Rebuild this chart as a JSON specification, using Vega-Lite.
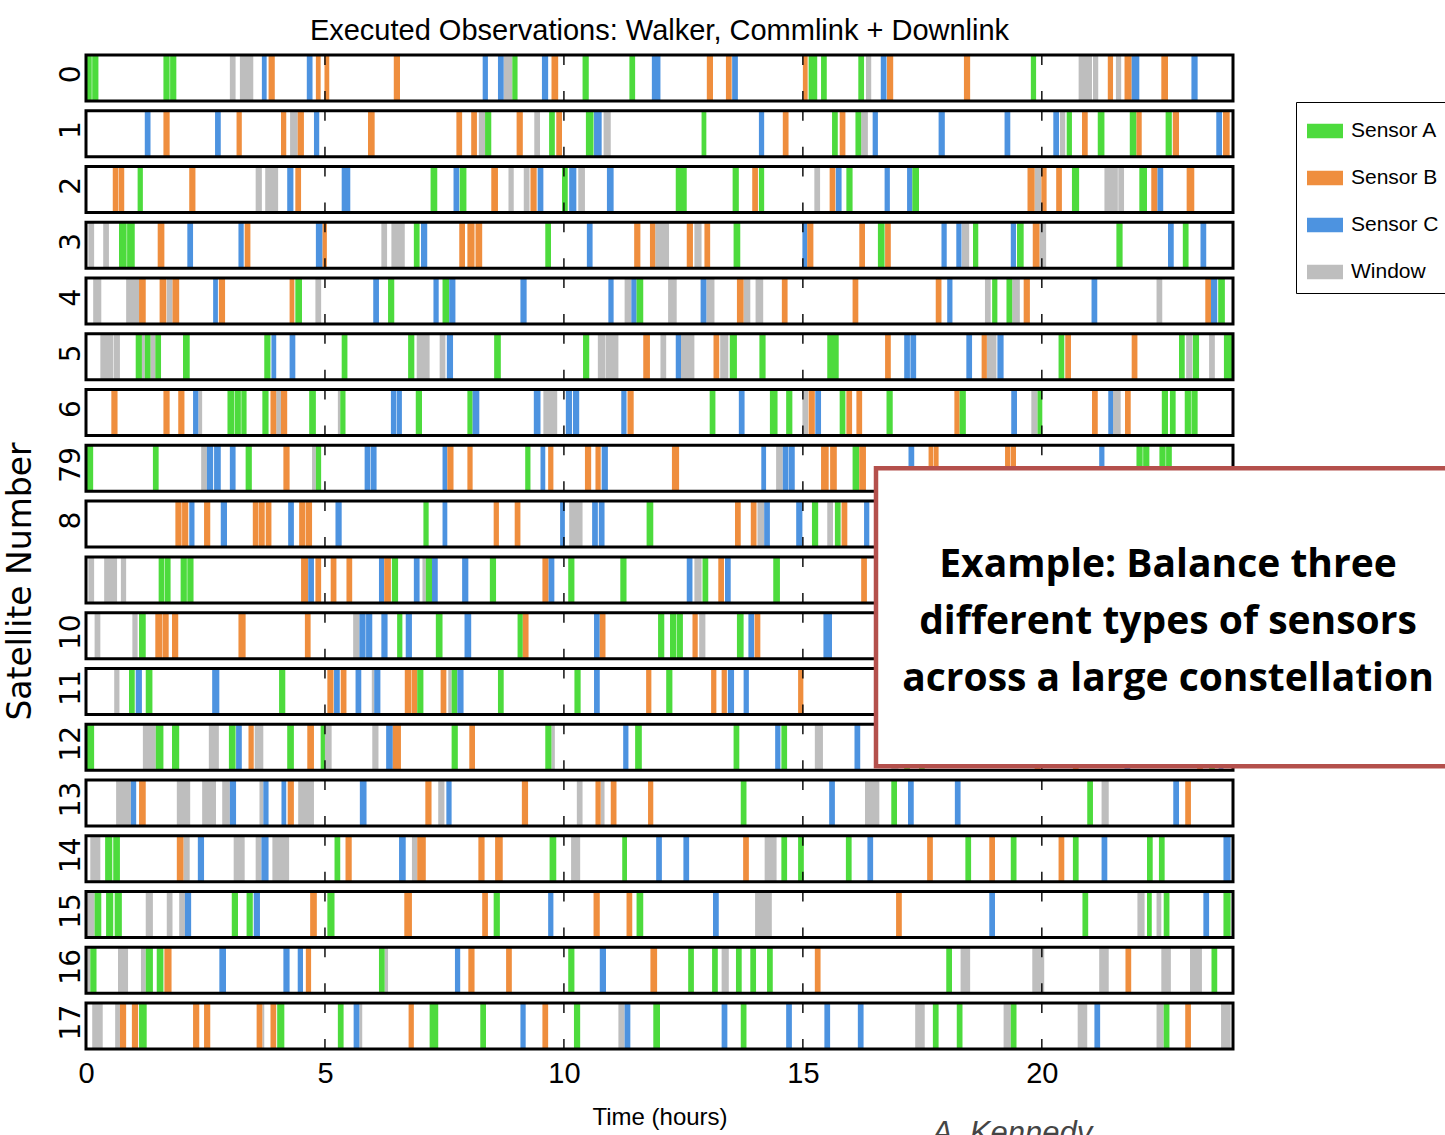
{
  "$schema": "https://vega.github.io/schema/vega-lite/v6.json",
  "width": 1147,
  "height": 1004,
  "autosize": {"type": "none"},
  "padding": {"left": 86, "top": 50, "right": 212, "bottom": 81},
  "background": "white",
  "title": {
    "text": "Executed Observations: Walker, Commlink + Downlink",
    "font": "Liberation Sans",
    "fontSize": 29,
    "fontWeight": "normal",
    "color": "black",
    "anchor": "middle",
    "frame": "group",
    "baseline": "alphabetic",
    "offset": 9,
    "dy": 28
  },
  "config": {"view": {"stroke": null}},
  "datasets": {
    "rows": [
      {"sat": 0, "g": [5, 10, 15, 20]}, {"sat": 1, "g": [5, 10, 15, 20]}, {"sat": 2, "g": [5, 10, 15, 20]},
      {"sat": 3, "g": [5, 10, 15, 20]}, {"sat": 4, "g": [5, 10, 15, 20]}, {"sat": 5, "g": [5, 10, 15, 20]},
      {"sat": 6, "g": [5, 10, 15, 20]}, {"sat": 7, "g": [5, 10, 15, 20]}, {"sat": 8, "g": [5, 10, 15, 20]},
      {"sat": 9, "g": [5, 10, 15, 20]}, {"sat": 10, "g": [5, 10, 15, 20]}, {"sat": 11, "g": [5, 10, 15, 20]},
      {"sat": 12, "g": [5, 10, 15, 20]}, {"sat": 13, "g": [5, 10, 15, 20]}, {"sat": 14, "g": [5, 10, 15, 20]},
      {"sat": 15, "g": [5, 10, 15, 20]}, {"sat": 16, "g": [5, 10, 15, 20]}, {"sat": 17, "g": [5, 10, 15, 20]}
    ],
    "obs": [
      {"sat":0,"type":"Sensor A","start":0.00,"end":0.12},{"sat":0,"type":"Sensor A","start":0.13,"end":0.26},{"sat":0,"type":"Sensor A","start":1.62,"end":1.75},{"sat":0,"type":"Sensor A","start":1.76,"end":1.89},
      {"sat":0,"type":"Window","start":3.01,"end":3.13},{"sat":0,"type":"Window","start":3.22,"end":3.50},{"sat":0,"type":"Sensor C","start":3.68,"end":3.78},{"sat":0,"type":"Sensor B","start":3.82,"end":3.95},
      {"sat":0,"type":"Sensor C","start":4.62,"end":4.74},{"sat":0,"type":"Sensor B","start":4.81,"end":4.91},{"sat":0,"type":"Sensor B","start":4.99,"end":5.09},{"sat":0,"type":"Sensor B","start":6.44,"end":6.57},
      {"sat":0,"type":"Sensor C","start":8.30,"end":8.41},{"sat":0,"type":"Sensor C","start":8.62,"end":8.74},{"sat":0,"type":"Window","start":8.74,"end":8.92},{"sat":0,"type":"Sensor A","start":8.92,"end":9.03},
      {"sat":0,"type":"Sensor C","start":9.54,"end":9.67},{"sat":0,"type":"Sensor B","start":9.74,"end":9.88},{"sat":0,"type":"Sensor A","start":10.39,"end":10.52},{"sat":0,"type":"Sensor A","start":11.37,"end":11.49},
      {"sat":0,"type":"Sensor C","start":11.84,"end":12.02},{"sat":0,"type":"Sensor B","start":12.99,"end":13.12},{"sat":0,"type":"Sensor B","start":13.39,"end":13.51},{"sat":0,"type":"Sensor C","start":13.52,"end":13.64},
      {"sat":0,"type":"Sensor B","start":15.00,"end":15.10},{"sat":0,"type":"Sensor A","start":15.12,"end":15.30},{"sat":0,"type":"Sensor A","start":15.38,"end":15.50},{"sat":0,"type":"Sensor A","start":16.16,"end":16.28},
      {"sat":0,"type":"Window","start":16.32,"end":16.43},{"sat":0,"type":"Sensor C","start":16.63,"end":16.75},{"sat":0,"type":"Sensor B","start":16.76,"end":16.89},{"sat":0,"type":"Sensor B","start":18.37,"end":18.50},
      {"sat":0,"type":"Sensor A","start":19.77,"end":19.88},{"sat":0,"type":"Window","start":20.77,"end":21.05},{"sat":0,"type":"Window","start":21.07,"end":21.18},{"sat":0,"type":"Sensor B","start":21.38,"end":21.49},
      {"sat":0,"type":"Window","start":21.55,"end":21.66},{"sat":0,"type":"Sensor B","start":21.73,"end":21.88},{"sat":0,"type":"Sensor C","start":21.88,"end":22.04},{"sat":0,"type":"Sensor B","start":22.50,"end":22.64},
      {"sat":0,"type":"Sensor C","start":23.13,"end":23.26},

      {"sat":1,"type":"Sensor C","start":1.23,"end":1.35},{"sat":1,"type":"Sensor B","start":1.62,"end":1.75},{"sat":1,"type":"Sensor C","start":2.70,"end":2.82},{"sat":1,"type":"Sensor B","start":3.15,"end":3.26},
      {"sat":1,"type":"Sensor B","start":4.08,"end":4.19},{"sat":1,"type":"Window","start":4.27,"end":4.43},{"sat":1,"type":"Sensor B","start":4.43,"end":4.56},{"sat":1,"type":"Sensor C","start":4.77,"end":4.88},
      {"sat":1,"type":"Sensor B","start":5.90,"end":6.04},{"sat":1,"type":"Sensor B","start":7.75,"end":7.87},{"sat":1,"type":"Sensor B","start":8.06,"end":8.18},{"sat":1,"type":"Window","start":8.22,"end":8.35},
      {"sat":1,"type":"Sensor A","start":8.35,"end":8.48},{"sat":1,"type":"Sensor B","start":9.01,"end":9.14},{"sat":1,"type":"Window","start":9.38,"end":9.50},{"sat":1,"type":"Sensor A","start":9.69,"end":9.81},
      {"sat":1,"type":"Sensor B","start":9.84,"end":9.96},{"sat":1,"type":"Sensor A","start":10.46,"end":10.62},{"sat":1,"type":"Sensor C","start":10.63,"end":10.79},{"sat":1,"type":"Window","start":10.83,"end":10.98},
      {"sat":1,"type":"Sensor A","start":12.88,"end":12.98},{"sat":1,"type":"Sensor C","start":14.08,"end":14.19},{"sat":1,"type":"Sensor B","start":14.58,"end":14.70},{"sat":1,"type":"Sensor A","start":15.61,"end":15.73},
      {"sat":1,"type":"Sensor B","start":15.77,"end":15.89},{"sat":1,"type":"Sensor A","start":16.10,"end":16.22},{"sat":1,"type":"Window","start":16.22,"end":16.36},{"sat":1,"type":"Sensor C","start":16.46,"end":16.57},
      {"sat":1,"type":"Sensor C","start":17.84,"end":17.97},{"sat":1,"type":"Sensor C","start":19.22,"end":19.34},{"sat":1,"type":"Sensor C","start":20.24,"end":20.36},{"sat":1,"type":"Window","start":20.38,"end":20.49},
      {"sat":1,"type":"Sensor A","start":20.52,"end":20.63},{"sat":1,"type":"Sensor B","start":20.84,"end":20.96},{"sat":1,"type":"Sensor A","start":21.17,"end":21.31},{"sat":1,"type":"Sensor A","start":21.84,"end":21.98},
      {"sat":1,"type":"Sensor B","start":21.98,"end":22.09},{"sat":1,"type":"Sensor A","start":22.59,"end":22.72},{"sat":1,"type":"Sensor B","start":22.74,"end":22.87},{"sat":1,"type":"Sensor C","start":23.65,"end":23.77},
      {"sat":1,"type":"Sensor B","start":23.79,"end":23.93},

      {"sat":2,"type":"Sensor B","start":0.56,"end":0.67},{"sat":2,"type":"Sensor B","start":0.68,"end":0.80},{"sat":2,"type":"Sensor A","start":1.08,"end":1.19},{"sat":2,"type":"Sensor B","start":2.16,"end":2.29},
      {"sat":2,"type":"Window","start":3.55,"end":3.68},{"sat":2,"type":"Window","start":3.75,"end":4.02},{"sat":2,"type":"Sensor C","start":4.21,"end":4.34},{"sat":2,"type":"Sensor B","start":4.38,"end":4.50},
      {"sat":2,"type":"Sensor C","start":5.35,"end":5.53},{"sat":2,"type":"Sensor A","start":7.21,"end":7.35},{"sat":2,"type":"Sensor C","start":7.69,"end":7.81},{"sat":2,"type":"Sensor A","start":7.82,"end":7.96},
      {"sat":2,"type":"Sensor B","start":8.48,"end":8.62},{"sat":2,"type":"Window","start":8.84,"end":8.95},{"sat":2,"type":"Window","start":9.16,"end":9.28},{"sat":2,"type":"Sensor B","start":9.30,"end":9.43},
      {"sat":2,"type":"Sensor C","start":9.45,"end":9.57},{"sat":2,"type":"Sensor A","start":9.96,"end":10.08},{"sat":2,"type":"Sensor C","start":10.11,"end":10.26},{"sat":2,"type":"Window","start":10.30,"end":10.44},
      {"sat":2,"type":"Sensor C","start":10.90,"end":11.04},{"sat":2,"type":"Sensor A","start":12.34,"end":12.57},{"sat":2,"type":"Sensor A","start":13.53,"end":13.66},{"sat":2,"type":"Sensor B","start":13.94,"end":14.06},
      {"sat":2,"type":"Sensor A","start":14.08,"end":14.19},{"sat":2,"type":"Window","start":15.24,"end":15.36},{"sat":2,"type":"Sensor B","start":15.56,"end":15.68},{"sat":2,"type":"Sensor C","start":15.69,"end":15.81},
      {"sat":2,"type":"Sensor A","start":15.91,"end":16.04},{"sat":2,"type":"Sensor C","start":16.71,"end":16.82},{"sat":2,"type":"Sensor C","start":17.18,"end":17.29},{"sat":2,"type":"Sensor A","start":17.29,"end":17.43},
      {"sat":2,"type":"Sensor B","start":19.70,"end":19.85},{"sat":2,"type":"Window","start":19.85,"end":19.99},{"sat":2,"type":"Sensor B","start":19.99,"end":20.10},{"sat":2,"type":"Sensor B","start":20.30,"end":20.42},
      {"sat":2,"type":"Sensor A","start":20.63,"end":20.78},{"sat":2,"type":"Window","start":21.31,"end":21.59},{"sat":2,"type":"Window","start":21.60,"end":21.72},{"sat":2,"type":"Sensor A","start":22.04,"end":22.20},
      {"sat":2,"type":"Sensor B","start":22.29,"end":22.42},{"sat":2,"type":"Sensor C","start":22.42,"end":22.54},{"sat":2,"type":"Sensor B","start":23.03,"end":23.19},

      {"sat":3,"type":"Window","start":0.05,"end":0.17},{"sat":3,"type":"Window","start":0.36,"end":0.48},{"sat":3,"type":"Sensor A","start":0.69,"end":0.85},{"sat":3,"type":"Sensor A","start":0.86,"end":1.02},
      {"sat":3,"type":"Sensor B","start":1.50,"end":1.64},{"sat":3,"type":"Sensor C","start":2.12,"end":2.24},{"sat":3,"type":"Sensor C","start":3.19,"end":3.30},{"sat":3,"type":"Sensor B","start":3.32,"end":3.44},
      {"sat":3,"type":"Sensor C","start":4.81,"end":4.95},{"sat":3,"type":"Sensor B","start":4.95,"end":5.04},{"sat":3,"type":"Window","start":6.18,"end":6.30},{"sat":3,"type":"Window","start":6.39,"end":6.67},
      {"sat":3,"type":"Sensor A","start":6.86,"end":6.98},{"sat":3,"type":"Sensor C","start":7.01,"end":7.14},{"sat":3,"type":"Sensor B","start":7.81,"end":7.93},{"sat":3,"type":"Sensor B","start":7.98,"end":8.13},
      {"sat":3,"type":"Sensor B","start":8.15,"end":8.29},{"sat":3,"type":"Sensor A","start":9.61,"end":9.73},{"sat":3,"type":"Sensor C","start":10.48,"end":10.60},{"sat":3,"type":"Sensor B","start":11.47,"end":11.60},
      {"sat":3,"type":"Sensor B","start":11.80,"end":11.91},{"sat":3,"type":"Window","start":11.91,"end":12.20},{"sat":3,"type":"Sensor B","start":12.57,"end":12.70},{"sat":3,"type":"Window","start":12.73,"end":12.88},
      {"sat":3,"type":"Sensor B","start":12.94,"end":13.06},{"sat":3,"type":"Sensor A","start":13.55,"end":13.69},{"sat":3,"type":"Sensor C","start":14.99,"end":15.09},{"sat":3,"type":"Sensor B","start":15.09,"end":15.22},
      {"sat":3,"type":"Sensor B","start":16.18,"end":16.30},{"sat":3,"type":"Sensor A","start":16.57,"end":16.71},{"sat":3,"type":"Sensor B","start":16.72,"end":16.84},{"sat":3,"type":"Sensor C","start":17.90,"end":18.01},
      {"sat":3,"type":"Sensor C","start":18.21,"end":18.32},{"sat":3,"type":"Window","start":18.33,"end":18.48},{"sat":3,"type":"Sensor A","start":18.56,"end":18.67},{"sat":3,"type":"Sensor C","start":19.35,"end":19.46},
      {"sat":3,"type":"Sensor A","start":19.48,"end":19.62},{"sat":3,"type":"Sensor B","start":19.81,"end":19.95},{"sat":3,"type":"Window","start":19.95,"end":20.09},{"sat":3,"type":"Sensor A","start":21.56,"end":21.69},
      {"sat":3,"type":"Sensor C","start":22.64,"end":22.76},{"sat":3,"type":"Sensor A","start":22.95,"end":23.07},{"sat":3,"type":"Sensor C","start":23.32,"end":23.44},

      {"sat":4,"type":"Window","start":0.15,"end":0.32},{"sat":4,"type":"Window","start":0.84,"end":1.11},{"sat":4,"type":"Sensor B","start":1.11,"end":1.25},{"sat":4,"type":"Sensor B","start":1.54,"end":1.68},
      {"sat":4,"type":"Window","start":1.69,"end":1.81},{"sat":4,"type":"Sensor B","start":1.81,"end":1.95},{"sat":4,"type":"Sensor C","start":2.66,"end":2.76},{"sat":4,"type":"Sensor B","start":2.78,"end":2.91},
      {"sat":4,"type":"Sensor B","start":4.26,"end":4.36},{"sat":4,"type":"Sensor A","start":4.38,"end":4.52},{"sat":4,"type":"Window","start":4.80,"end":4.92},{"sat":4,"type":"Sensor C","start":6.01,"end":6.13},
      {"sat":4,"type":"Sensor A","start":6.32,"end":6.45},{"sat":4,"type":"Sensor C","start":7.27,"end":7.38},{"sat":4,"type":"Sensor A","start":7.46,"end":7.60},{"sat":4,"type":"Sensor C","start":7.60,"end":7.73},
      {"sat":4,"type":"Sensor C","start":9.09,"end":9.22},{"sat":4,"type":"Sensor C","start":10.93,"end":11.04},{"sat":4,"type":"Window","start":11.27,"end":11.41},{"sat":4,"type":"Sensor C","start":11.41,"end":11.52},
      {"sat":4,"type":"Sensor A","start":11.52,"end":11.66},{"sat":4,"type":"Window","start":12.18,"end":12.36},{"sat":4,"type":"Sensor C","start":12.86,"end":12.98},{"sat":4,"type":"Window","start":12.98,"end":13.15},
      {"sat":4,"type":"Sensor B","start":13.62,"end":13.76},{"sat":4,"type":"Window","start":13.76,"end":13.90},{"sat":4,"type":"Window","start":14.01,"end":14.17},{"sat":4,"type":"Sensor B","start":14.56,"end":14.68},
      {"sat":4,"type":"Sensor B","start":16.04,"end":16.16},{"sat":4,"type":"Sensor B","start":17.78,"end":17.90},{"sat":4,"type":"Sensor C","start":18.02,"end":18.13},{"sat":4,"type":"Window","start":18.81,"end":18.93},
      {"sat":4,"type":"Sensor A","start":18.96,"end":19.07},{"sat":4,"type":"Sensor A","start":19.26,"end":19.38},{"sat":4,"type":"Window","start":19.38,"end":19.54},{"sat":4,"type":"Sensor B","start":19.62,"end":19.75},
      {"sat":4,"type":"Sensor C","start":21.04,"end":21.16},{"sat":4,"type":"Window","start":22.40,"end":22.52},{"sat":4,"type":"Sensor B","start":23.42,"end":23.54},{"sat":4,"type":"Sensor C","start":23.54,"end":23.67},
      {"sat":4,"type":"Sensor A","start":23.69,"end":23.83},

      {"sat":5,"type":"Window","start":0.30,"end":0.57},{"sat":5,"type":"Window","start":0.58,"end":0.71},{"sat":5,"type":"Sensor A","start":1.04,"end":1.17},{"sat":5,"type":"Window","start":1.17,"end":1.23},
      {"sat":5,"type":"Sensor A","start":1.23,"end":1.35},{"sat":5,"type":"Window","start":1.35,"end":1.45},{"sat":5,"type":"Sensor A","start":1.45,"end":1.57},{"sat":5,"type":"Sensor A","start":2.03,"end":2.17},
      {"sat":5,"type":"Sensor A","start":3.73,"end":3.86},{"sat":5,"type":"Sensor C","start":3.88,"end":3.98},{"sat":5,"type":"Sensor C","start":4.26,"end":4.38},{"sat":5,"type":"Sensor A","start":5.35,"end":5.47},
      {"sat":5,"type":"Sensor A","start":6.74,"end":6.87},{"sat":5,"type":"Window","start":6.92,"end":7.19},{"sat":5,"type":"Window","start":7.40,"end":7.52},{"sat":5,"type":"Sensor C","start":7.55,"end":7.68},
      {"sat":5,"type":"Sensor A","start":8.54,"end":8.68},{"sat":5,"type":"Sensor A","start":10.40,"end":10.53},{"sat":5,"type":"Window","start":10.71,"end":10.86},{"sat":5,"type":"Window","start":10.87,"end":11.14},
      {"sat":5,"type":"Sensor B","start":11.66,"end":11.80},{"sat":5,"type":"Window","start":12.02,"end":12.14},{"sat":5,"type":"Sensor C","start":12.34,"end":12.45},{"sat":5,"type":"Window","start":12.45,"end":12.73},
      {"sat":5,"type":"Sensor B","start":13.13,"end":13.25},{"sat":5,"type":"Window","start":13.27,"end":13.44},{"sat":5,"type":"Sensor A","start":13.47,"end":13.62},{"sat":5,"type":"Sensor A","start":14.09,"end":14.22},
      {"sat":5,"type":"Sensor A","start":15.51,"end":15.75},{"sat":5,"type":"Sensor B","start":16.72,"end":16.84},{"sat":5,"type":"Sensor C","start":17.12,"end":17.24},{"sat":5,"type":"Sensor C","start":17.25,"end":17.37},
      {"sat":5,"type":"Sensor C","start":18.42,"end":18.54},{"sat":5,"type":"Sensor B","start":18.74,"end":18.85},{"sat":5,"type":"Window","start":18.85,"end":19.05},{"sat":5,"type":"Sensor C","start":19.07,"end":19.20},
      {"sat":5,"type":"Sensor A","start":20.35,"end":20.47},{"sat":5,"type":"Sensor B","start":20.49,"end":20.61},{"sat":5,"type":"Sensor B","start":21.88,"end":22.00},{"sat":5,"type":"Sensor A","start":22.87,"end":22.99},
      {"sat":5,"type":"Window","start":23.02,"end":23.15},{"sat":5,"type":"Sensor A","start":23.16,"end":23.29},{"sat":5,"type":"Window","start":23.50,"end":23.62},{"sat":5,"type":"Sensor A","start":23.81,"end":24.00},

      {"sat":6,"type":"Sensor B","start":0.53,"end":0.66},{"sat":6,"type":"Sensor B","start":1.62,"end":1.75},{"sat":6,"type":"Sensor B","start":1.93,"end":2.06},{"sat":6,"type":"Sensor C","start":2.24,"end":2.35},
      {"sat":6,"type":"Window","start":2.35,"end":2.43},{"sat":6,"type":"Sensor A","start":2.96,"end":3.10},{"sat":6,"type":"Sensor A","start":3.11,"end":3.24},{"sat":6,"type":"Sensor A","start":3.25,"end":3.36},
      {"sat":6,"type":"Sensor A","start":3.69,"end":3.82},{"sat":6,"type":"Sensor B","start":3.86,"end":3.98},{"sat":6,"type":"Window","start":3.98,"end":4.08},{"sat":6,"type":"Sensor B","start":4.08,"end":4.21},
      {"sat":6,"type":"Sensor A","start":4.67,"end":4.81},{"sat":6,"type":"Window","start":5.27,"end":5.32},{"sat":6,"type":"Sensor A","start":5.32,"end":5.43},{"sat":6,"type":"Sensor C","start":6.38,"end":6.49},
      {"sat":6,"type":"Sensor C","start":6.50,"end":6.61},{"sat":6,"type":"Sensor A","start":6.90,"end":7.03},{"sat":6,"type":"Sensor A","start":7.98,"end":8.09},{"sat":6,"type":"Sensor C","start":8.09,"end":8.23},
      {"sat":6,"type":"Sensor C","start":9.37,"end":9.51},{"sat":6,"type":"Window","start":9.57,"end":9.86},{"sat":6,"type":"Sensor C","start":10.04,"end":10.17},{"sat":6,"type":"Sensor C","start":10.19,"end":10.32},
      {"sat":6,"type":"Sensor C","start":11.20,"end":11.31},{"sat":6,"type":"Sensor B","start":11.33,"end":11.46},{"sat":6,"type":"Sensor A","start":13.05,"end":13.17},{"sat":6,"type":"Sensor C","start":13.66,"end":13.78},
      {"sat":6,"type":"Sensor A","start":14.31,"end":14.47},{"sat":6,"type":"Sensor A","start":14.65,"end":14.78},{"sat":6,"type":"Window","start":14.99,"end":15.11},{"sat":6,"type":"Sensor B","start":15.12,"end":15.25},
      {"sat":6,"type":"Sensor C","start":15.26,"end":15.38},{"sat":6,"type":"Sensor A","start":15.77,"end":15.89},{"sat":6,"type":"Sensor B","start":15.91,"end":16.03},{"sat":6,"type":"Sensor B","start":16.12,"end":16.24},
      {"sat":6,"type":"Sensor A","start":16.75,"end":16.88},{"sat":6,"type":"Sensor B","start":18.17,"end":18.28},{"sat":6,"type":"Sensor A","start":18.28,"end":18.41},{"sat":6,"type":"Sensor C","start":19.36,"end":19.48},
      {"sat":6,"type":"Window","start":19.78,"end":19.91},{"sat":6,"type":"Sensor A","start":19.91,"end":20.01},{"sat":6,"type":"Sensor B","start":21.05,"end":21.17},{"sat":6,"type":"Sensor C","start":21.39,"end":21.49},
      {"sat":6,"type":"Window","start":21.49,"end":21.65},{"sat":6,"type":"Sensor B","start":21.74,"end":21.86},{"sat":6,"type":"Sensor A","start":22.51,"end":22.64},{"sat":6,"type":"Sensor A","start":22.68,"end":22.80},
      {"sat":6,"type":"Sensor A","start":22.99,"end":23.12},{"sat":6,"type":"Sensor A","start":23.13,"end":23.26},

      {"sat":7,"type":"Sensor A","start":0.00,"end":0.15},{"sat":7,"type":"Sensor A","start":1.40,"end":1.52},{"sat":7,"type":"Window","start":2.41,"end":2.53},{"sat":7,"type":"Sensor C","start":2.53,"end":2.66},
      {"sat":7,"type":"Sensor C","start":2.68,"end":2.82},{"sat":7,"type":"Sensor C","start":3.01,"end":3.13},{"sat":7,"type":"Sensor A","start":3.34,"end":3.47},{"sat":7,"type":"Sensor B","start":4.13,"end":4.26},
      {"sat":7,"type":"Window","start":4.73,"end":4.81},{"sat":7,"type":"Sensor A","start":4.81,"end":4.92},{"sat":7,"type":"Sensor C","start":5.83,"end":5.95},{"sat":7,"type":"Sensor C","start":5.96,"end":6.08},
      {"sat":7,"type":"Sensor C","start":7.46,"end":7.56},{"sat":7,"type":"Sensor B","start":7.56,"end":7.69},{"sat":7,"type":"Sensor B","start":7.98,"end":8.09},{"sat":7,"type":"Sensor A","start":9.19,"end":9.30},
      {"sat":7,"type":"Sensor C","start":9.51,"end":9.61},{"sat":7,"type":"Sensor B","start":9.67,"end":9.78},{"sat":7,"type":"Sensor B","start":10.44,"end":10.57},{"sat":7,"type":"Sensor B","start":10.66,"end":10.77},
      {"sat":7,"type":"Sensor C","start":10.79,"end":10.92},{"sat":7,"type":"Sensor B","start":12.26,"end":12.41},{"sat":7,"type":"Sensor C","start":14.13,"end":14.23},{"sat":7,"type":"Window","start":14.44,"end":14.58},
      {"sat":7,"type":"Sensor C","start":14.58,"end":14.70},{"sat":7,"type":"Sensor C","start":14.71,"end":14.83},{"sat":7,"type":"Sensor B","start":15.38,"end":15.54},{"sat":7,"type":"Sensor B","start":15.57,"end":15.71},
      {"sat":7,"type":"Sensor A","start":16.04,"end":16.18},{"sat":7,"type":"Sensor B","start":16.18,"end":16.32},{"sat":7,"type":"Sensor C","start":17.21,"end":17.33},{"sat":7,"type":"Sensor B","start":17.63,"end":17.73},
      {"sat":7,"type":"Sensor B","start":17.74,"end":17.84},{"sat":7,"type":"Sensor B","start":19.23,"end":19.34},{"sat":7,"type":"Sensor B","start":19.35,"end":19.46},{"sat":7,"type":"Sensor C","start":21.20,"end":21.31},
      {"sat":7,"type":"Sensor A","start":21.98,"end":22.11},{"sat":7,"type":"Sensor A","start":22.12,"end":22.25},{"sat":7,"type":"Sensor A","start":22.46,"end":22.59},{"sat":7,"type":"Sensor A","start":22.60,"end":22.72},

      {"sat":8,"type":"Sensor B","start":1.87,"end":2.00},{"sat":8,"type":"Sensor B","start":2.01,"end":2.14},{"sat":8,"type":"Sensor C","start":2.16,"end":2.27},{"sat":8,"type":"Sensor B","start":2.47,"end":2.60},
      {"sat":8,"type":"Sensor C","start":2.82,"end":2.95},{"sat":8,"type":"Sensor B","start":3.49,"end":3.61},{"sat":8,"type":"Sensor B","start":3.62,"end":3.74},{"sat":8,"type":"Sensor B","start":3.76,"end":3.88},
      {"sat":8,"type":"Sensor C","start":4.23,"end":4.35},{"sat":8,"type":"Sensor B","start":4.46,"end":4.59},{"sat":8,"type":"Sensor B","start":4.60,"end":4.73},{"sat":8,"type":"Sensor C","start":5.22,"end":5.35},
      {"sat":8,"type":"Sensor A","start":7.06,"end":7.17},{"sat":8,"type":"Sensor C","start":7.46,"end":7.56},{"sat":8,"type":"Sensor B","start":8.53,"end":8.64},{"sat":8,"type":"Sensor B","start":8.97,"end":9.09},
      {"sat":8,"type":"Sensor C","start":9.92,"end":10.02},{"sat":8,"type":"Window","start":10.11,"end":10.39},{"sat":8,"type":"Sensor C","start":10.59,"end":10.71},{"sat":8,"type":"Sensor C","start":10.73,"end":10.85},
      {"sat":8,"type":"Sensor A","start":11.73,"end":11.87},{"sat":8,"type":"Sensor B","start":13.58,"end":13.70},{"sat":8,"type":"Sensor B","start":13.91,"end":14.03},{"sat":8,"type":"Window","start":14.05,"end":14.19},
      {"sat":8,"type":"Sensor C","start":14.19,"end":14.31},{"sat":8,"type":"Sensor C","start":14.86,"end":14.99},{"sat":8,"type":"Sensor A","start":15.19,"end":15.32},{"sat":8,"type":"Window","start":15.51,"end":15.63},
      {"sat":8,"type":"Sensor A","start":15.67,"end":15.79},{"sat":8,"type":"Sensor B","start":15.81,"end":15.93},{"sat":8,"type":"Sensor C","start":16.28,"end":16.39},

      {"sat":9,"type":"Window","start":0.05,"end":0.17},{"sat":9,"type":"Window","start":0.38,"end":0.65},{"sat":9,"type":"Window","start":0.73,"end":0.84},{"sat":9,"type":"Sensor A","start":1.52,"end":1.64},
      {"sat":9,"type":"Sensor A","start":1.65,"end":1.77},{"sat":9,"type":"Sensor A","start":1.98,"end":2.11},{"sat":9,"type":"Sensor A","start":2.12,"end":2.25},{"sat":9,"type":"Sensor B","start":4.50,"end":4.65},
      {"sat":9,"type":"Sensor C","start":4.65,"end":4.77},{"sat":9,"type":"Sensor B","start":4.80,"end":4.92},{"sat":9,"type":"Sensor B","start":5.12,"end":5.24},{"sat":9,"type":"Sensor B","start":5.45,"end":5.57},
      {"sat":9,"type":"Sensor C","start":6.13,"end":6.24},{"sat":9,"type":"Sensor B","start":6.24,"end":6.38},{"sat":9,"type":"Sensor A","start":6.40,"end":6.53},{"sat":9,"type":"Sensor C","start":6.86,"end":6.98},
      {"sat":9,"type":"Window","start":7.04,"end":7.11},{"sat":9,"type":"Sensor A","start":7.11,"end":7.24},{"sat":9,"type":"Sensor C","start":7.24,"end":7.36},{"sat":9,"type":"Sensor C","start":7.87,"end":8.00},
      {"sat":9,"type":"Sensor A","start":8.45,"end":8.58},{"sat":9,"type":"Sensor B","start":9.55,"end":9.68},{"sat":9,"type":"Sensor C","start":9.68,"end":9.80},{"sat":9,"type":"Sensor A","start":10.09,"end":10.22},
      {"sat":9,"type":"Sensor A","start":11.18,"end":11.31},{"sat":9,"type":"Sensor C","start":12.57,"end":12.69},{"sat":9,"type":"Window","start":12.73,"end":12.88},{"sat":9,"type":"Sensor A","start":12.90,"end":13.02},
      {"sat":9,"type":"Sensor B","start":13.23,"end":13.35},{"sat":9,"type":"Sensor C","start":13.37,"end":13.49},{"sat":9,"type":"Sensor A","start":14.38,"end":14.52},{"sat":9,"type":"Sensor B","start":16.22,"end":16.34},

      {"sat":10,"type":"Window","start":0.18,"end":0.30},{"sat":10,"type":"Window","start":0.97,"end":1.08},{"sat":10,"type":"Sensor A","start":1.11,"end":1.25},{"sat":10,"type":"Sensor B","start":1.45,"end":1.59},
      {"sat":10,"type":"Sensor B","start":1.60,"end":1.73},{"sat":10,"type":"Sensor B","start":1.80,"end":1.93},{"sat":10,"type":"Sensor B","start":3.19,"end":3.34},{"sat":10,"type":"Sensor B","start":4.58,"end":4.70},
      {"sat":10,"type":"Window","start":5.59,"end":5.72},{"sat":10,"type":"Sensor C","start":5.72,"end":5.85},{"sat":10,"type":"Sensor C","start":5.86,"end":5.99},{"sat":10,"type":"Sensor C","start":6.18,"end":6.31},
      {"sat":10,"type":"Sensor A","start":6.51,"end":6.62},{"sat":10,"type":"Sensor C","start":6.69,"end":6.82},{"sat":10,"type":"Sensor A","start":7.32,"end":7.46},{"sat":10,"type":"Sensor C","start":7.92,"end":8.06},
      {"sat":10,"type":"Sensor A","start":9.03,"end":9.14},{"sat":10,"type":"Sensor B","start":9.14,"end":9.26},{"sat":10,"type":"Sensor C","start":10.63,"end":10.75},{"sat":10,"type":"Sensor B","start":10.75,"end":10.87},
      {"sat":10,"type":"Sensor A","start":11.97,"end":12.10},{"sat":10,"type":"Sensor A","start":12.22,"end":12.35},{"sat":10,"type":"Sensor A","start":12.36,"end":12.49},{"sat":10,"type":"Sensor B","start":12.69,"end":12.80},
      {"sat":10,"type":"Window","start":12.83,"end":12.96},{"sat":10,"type":"Sensor A","start":13.62,"end":13.76},{"sat":10,"type":"Sensor C","start":13.86,"end":13.98},{"sat":10,"type":"Sensor B","start":13.99,"end":14.11},
      {"sat":10,"type":"Sensor C","start":15.43,"end":15.61},

      {"sat":11,"type":"Window","start":0.59,"end":0.70},{"sat":11,"type":"Sensor A","start":0.90,"end":1.02},{"sat":11,"type":"Sensor C","start":1.04,"end":1.17},{"sat":11,"type":"Sensor A","start":1.25,"end":1.39},
      {"sat":11,"type":"Sensor C","start":2.64,"end":2.79},{"sat":11,"type":"Sensor A","start":4.04,"end":4.17},{"sat":11,"type":"Sensor B","start":5.05,"end":5.18},{"sat":11,"type":"Sensor C","start":5.19,"end":5.31},
      {"sat":11,"type":"Sensor B","start":5.33,"end":5.45},{"sat":11,"type":"Sensor C","start":5.64,"end":5.76},{"sat":11,"type":"Window","start":5.98,"end":6.03},{"sat":11,"type":"Sensor C","start":6.03,"end":6.16},
      {"sat":11,"type":"Sensor B","start":6.67,"end":6.80},{"sat":11,"type":"Sensor B","start":6.81,"end":6.93},{"sat":11,"type":"Sensor A","start":6.93,"end":7.06},{"sat":11,"type":"Sensor B","start":7.42,"end":7.54},
      {"sat":11,"type":"Window","start":7.58,"end":7.65},{"sat":11,"type":"Sensor A","start":7.65,"end":7.77},{"sat":11,"type":"Sensor C","start":7.77,"end":7.90},{"sat":11,"type":"Sensor A","start":8.62,"end":8.74},
      {"sat":11,"type":"Sensor A","start":10.22,"end":10.35},{"sat":11,"type":"Sensor C","start":10.63,"end":10.75},{"sat":11,"type":"Sensor B","start":11.72,"end":11.83},{"sat":11,"type":"Sensor A","start":12.14,"end":12.27},
      {"sat":11,"type":"Sensor B","start":13.08,"end":13.19},{"sat":11,"type":"Sensor B","start":13.30,"end":13.41},{"sat":11,"type":"Sensor C","start":13.43,"end":13.56},{"sat":11,"type":"Sensor C","start":13.76,"end":13.87},
      {"sat":11,"type":"Sensor B","start":14.90,"end":15.01},

      {"sat":12,"type":"Sensor A","start":0.01,"end":0.17},{"sat":12,"type":"Window","start":1.19,"end":1.46},{"sat":12,"type":"Sensor A","start":1.46,"end":1.62},{"sat":12,"type":"Sensor A","start":1.80,"end":1.95},
      {"sat":12,"type":"Window","start":2.57,"end":2.78},{"sat":12,"type":"Sensor A","start":2.99,"end":3.13},{"sat":12,"type":"Sensor C","start":3.14,"end":3.26},{"sat":12,"type":"Sensor B","start":3.40,"end":3.51},
      {"sat":12,"type":"Window","start":3.53,"end":3.71},{"sat":12,"type":"Sensor A","start":4.21,"end":4.35},{"sat":12,"type":"Sensor B","start":4.63,"end":4.77},{"sat":12,"type":"Sensor A","start":4.91,"end":5.00},
      {"sat":12,"type":"Window","start":5.00,"end":5.14},{"sat":12,"type":"Window","start":5.99,"end":6.12},{"sat":12,"type":"Sensor C","start":6.28,"end":6.42},{"sat":12,"type":"Sensor B","start":6.42,"end":6.59},
      {"sat":12,"type":"Sensor A","start":7.65,"end":7.78},{"sat":12,"type":"Sensor B","start":8.02,"end":8.14},{"sat":12,"type":"Sensor A","start":9.61,"end":9.74},{"sat":12,"type":"Window","start":9.74,"end":9.81},
      {"sat":12,"type":"Sensor C","start":11.24,"end":11.35},{"sat":12,"type":"Sensor A","start":11.49,"end":11.63},{"sat":12,"type":"Sensor A","start":13.55,"end":13.67},{"sat":12,"type":"Sensor C","start":14.42,"end":14.53},
      {"sat":12,"type":"Sensor A","start":14.55,"end":14.67},{"sat":12,"type":"Window","start":15.25,"end":15.42},{"sat":12,"type":"Sensor C","start":16.08,"end":16.20},{"sat":12,"type":"Window","start":16.85,"end":17.00},
      {"sat":12,"type":"Sensor A","start":17.12,"end":17.24},{"sat":12,"type":"Sensor A","start":17.43,"end":17.55},{"sat":12,"type":"Sensor B","start":19.85,"end":19.97},{"sat":12,"type":"Sensor B","start":20.65,"end":20.77},
      {"sat":12,"type":"Sensor C","start":21.73,"end":21.85},{"sat":12,"type":"Sensor B","start":23.25,"end":23.37},{"sat":12,"type":"Sensor A","start":23.50,"end":23.62},{"sat":12,"type":"Sensor C","start":23.70,"end":23.80},

      {"sat":13,"type":"Window","start":0.63,"end":0.94},{"sat":13,"type":"Sensor C","start":0.94,"end":1.05},{"sat":13,"type":"Sensor B","start":1.11,"end":1.25},{"sat":13,"type":"Window","start":1.90,"end":2.18},
      {"sat":13,"type":"Window","start":2.43,"end":2.72},{"sat":13,"type":"Window","start":2.85,"end":3.01},{"sat":13,"type":"Sensor C","start":3.01,"end":3.14},{"sat":13,"type":"Window","start":3.63,"end":3.71},
      {"sat":13,"type":"Sensor C","start":3.71,"end":3.82},{"sat":13,"type":"Sensor C","start":4.09,"end":4.19},{"sat":13,"type":"Sensor B","start":4.22,"end":4.35},{"sat":13,"type":"Window","start":4.44,"end":4.77},
      {"sat":13,"type":"Sensor C","start":5.73,"end":5.87},{"sat":13,"type":"Sensor B","start":7.10,"end":7.23},{"sat":13,"type":"Window","start":7.37,"end":7.50},{"sat":13,"type":"Sensor C","start":7.54,"end":7.65},
      {"sat":13,"type":"Sensor B","start":9.12,"end":9.25},{"sat":13,"type":"Window","start":10.27,"end":10.39},{"sat":13,"type":"Sensor B","start":10.66,"end":10.77},{"sat":13,"type":"Window","start":10.77,"end":10.85},
      {"sat":13,"type":"Sensor B","start":10.98,"end":11.10},{"sat":13,"type":"Sensor B","start":11.76,"end":11.87},{"sat":13,"type":"Sensor A","start":13.70,"end":13.82},{"sat":13,"type":"Sensor C","start":15.55,"end":15.67},
      {"sat":13,"type":"Window","start":16.30,"end":16.60},{"sat":13,"type":"Sensor A","start":16.85,"end":16.97},{"sat":13,"type":"Sensor C","start":17.20,"end":17.32},{"sat":13,"type":"Sensor C","start":18.18,"end":18.30},
      {"sat":13,"type":"Sensor A","start":20.95,"end":21.07},{"sat":13,"type":"Window","start":21.25,"end":21.40},{"sat":13,"type":"Sensor C","start":22.75,"end":22.87},{"sat":13,"type":"Sensor B","start":23.00,"end":23.12},

      {"sat":14,"type":"Window","start":0.09,"end":0.30},{"sat":14,"type":"Sensor A","start":0.40,"end":0.55},{"sat":14,"type":"Sensor A","start":0.57,"end":0.71},{"sat":14,"type":"Sensor B","start":1.90,"end":2.04},
      {"sat":14,"type":"Window","start":2.04,"end":2.17},{"sat":14,"type":"Sensor C","start":2.34,"end":2.47},{"sat":14,"type":"Window","start":3.09,"end":3.32},{"sat":14,"type":"Window","start":3.55,"end":3.67},
      {"sat":14,"type":"Sensor C","start":3.67,"end":3.82},{"sat":14,"type":"Window","start":3.90,"end":4.25},{"sat":14,"type":"Sensor A","start":5.20,"end":5.32},{"sat":14,"type":"Sensor B","start":5.43,"end":5.56},
      {"sat":14,"type":"Sensor C","start":6.55,"end":6.69},{"sat":14,"type":"Window","start":6.82,"end":6.93},{"sat":14,"type":"Sensor B","start":6.93,"end":7.11},{"sat":14,"type":"Sensor B","start":8.21,"end":8.34},
      {"sat":14,"type":"Sensor B","start":8.56,"end":8.72},{"sat":14,"type":"Sensor A","start":9.70,"end":9.84},{"sat":14,"type":"Window","start":10.15,"end":10.34},{"sat":14,"type":"Sensor A","start":11.22,"end":11.32},
      {"sat":14,"type":"Sensor C","start":11.93,"end":12.05},{"sat":14,"type":"Sensor C","start":12.50,"end":12.62},
      {"sat":14,"type":"Sensor B","start":13.75,"end":13.87},{"sat":14,"type":"Window","start":14.20,"end":14.45},{"sat":14,"type":"Sensor A","start":14.55,"end":14.67},{"sat":14,"type":"Sensor A","start":14.90,"end":15.02},
      {"sat":14,"type":"Sensor A","start":15.90,"end":16.02},{"sat":14,"type":"Sensor C","start":16.35,"end":16.47},{"sat":14,"type":"Sensor B","start":17.60,"end":17.72},{"sat":14,"type":"Sensor A","start":18.40,"end":18.52},
      {"sat":14,"type":"Sensor B","start":18.90,"end":19.02},{"sat":14,"type":"Sensor A","start":19.35,"end":19.47},{"sat":14,"type":"Sensor B","start":20.35,"end":20.47},{"sat":14,"type":"Sensor A","start":20.65,"end":20.77},
      {"sat":14,"type":"Sensor C","start":21.25,"end":21.37},{"sat":14,"type":"Sensor A","start":22.20,"end":22.32},{"sat":14,"type":"Sensor A","start":22.45,"end":22.57},{"sat":14,"type":"Sensor C","start":23.80,"end":23.95},

      {"sat":15,"type":"Window","start":0.01,"end":0.18},{"sat":15,"type":"Sensor A","start":0.18,"end":0.32},{"sat":15,"type":"Sensor A","start":0.42,"end":0.57},{"sat":15,"type":"Sensor A","start":0.60,"end":0.75},
      {"sat":15,"type":"Window","start":1.25,"end":1.40},{"sat":15,"type":"Window","start":1.69,"end":1.81},{"sat":15,"type":"Window","start":1.95,"end":2.07},{"sat":15,"type":"Sensor C","start":2.07,"end":2.20},
      {"sat":15,"type":"Sensor A","start":3.05,"end":3.18},{"sat":15,"type":"Sensor A","start":3.36,"end":3.49},{"sat":15,"type":"Sensor C","start":3.51,"end":3.64},{"sat":15,"type":"Sensor B","start":4.69,"end":4.83},
      {"sat":15,"type":"Sensor A","start":5.05,"end":5.20},{"sat":15,"type":"Sensor B","start":6.66,"end":6.82},{"sat":15,"type":"Sensor B","start":8.29,"end":8.41},{"sat":15,"type":"Sensor A","start":8.53,"end":8.66},
      {"sat":15,"type":"Sensor C","start":9.67,"end":9.78},{"sat":15,"type":"Sensor B","start":10.62,"end":10.75},{"sat":15,"type":"Sensor B","start":11.31,"end":11.43},{"sat":15,"type":"Sensor A","start":11.52,"end":11.66},
      {"sat":15,"type":"Sensor C","start":13.12,"end":13.24},{"sat":15,"type":"Window","start":14.00,"end":14.35},{"sat":15,"type":"Sensor B","start":16.95,"end":17.07},{"sat":15,"type":"Sensor C","start":18.90,"end":19.02},
      {"sat":15,"type":"Sensor A","start":20.85,"end":20.97},{"sat":15,"type":"Window","start":22.00,"end":22.15},{"sat":15,"type":"Sensor A","start":22.20,"end":22.30},{"sat":15,"type":"Window","start":22.40,"end":22.50},
      {"sat":15,"type":"Sensor A","start":22.55,"end":22.67},{"sat":15,"type":"Sensor C","start":23.38,"end":23.50},{"sat":15,"type":"Sensor A","start":23.80,"end":23.95},

      {"sat":16,"type":"Window","start":0.01,"end":0.09},{"sat":16,"type":"Sensor A","start":0.09,"end":0.22},{"sat":16,"type":"Window","start":0.67,"end":0.88},{"sat":16,"type":"Window","start":1.15,"end":1.25},
      {"sat":16,"type":"Sensor A","start":1.25,"end":1.40},{"sat":16,"type":"Sensor A","start":1.48,"end":1.62},{"sat":16,"type":"Sensor B","start":1.64,"end":1.79},{"sat":16,"type":"Sensor C","start":2.79,"end":2.93},
      {"sat":16,"type":"Sensor C","start":4.13,"end":4.26},{"sat":16,"type":"Sensor C","start":4.43,"end":4.54},{"sat":16,"type":"Sensor B","start":4.60,"end":4.71},{"sat":16,"type":"Sensor A","start":6.13,"end":6.25},
      {"sat":16,"type":"Window","start":6.25,"end":6.32},{"sat":16,"type":"Sensor C","start":7.72,"end":7.83},{"sat":16,"type":"Sensor B","start":8.00,"end":8.13},{"sat":16,"type":"Sensor B","start":8.79,"end":8.91},
      {"sat":16,"type":"Sensor A","start":10.09,"end":10.22},{"sat":16,"type":"Sensor C","start":10.75,"end":10.88},{"sat":16,"type":"Sensor B","start":11.81,"end":11.95},{"sat":16,"type":"Sensor A","start":12.60,"end":12.72},
      {"sat":16,"type":"Sensor A","start":13.10,"end":13.22},{"sat":16,"type":"Window","start":13.30,"end":13.45},{"sat":16,"type":"Sensor A","start":13.60,"end":13.72},{"sat":16,"type":"Sensor A","start":13.90,"end":14.02},
      {"sat":16,"type":"Sensor A","start":14.25,"end":14.37},{"sat":16,"type":"Sensor B","start":15.25,"end":15.37},{"sat":16,"type":"Sensor A","start":18.00,"end":18.12},{"sat":16,"type":"Window","start":18.30,"end":18.50},
      {"sat":16,"type":"Window","start":19.80,"end":20.05},{"sat":16,"type":"Window","start":21.20,"end":21.40},{"sat":16,"type":"Sensor B","start":21.75,"end":21.87},{"sat":16,"type":"Window","start":22.50,"end":22.70},
      {"sat":16,"type":"Window","start":23.10,"end":23.35},{"sat":16,"type":"Sensor A","start":23.55,"end":23.67},

      {"sat":17,"type":"Window","start":0.13,"end":0.35},{"sat":17,"type":"Window","start":0.61,"end":0.71},{"sat":17,"type":"Sensor B","start":0.71,"end":0.84},{"sat":17,"type":"Sensor B","start":0.96,"end":1.09},
      {"sat":17,"type":"Sensor A","start":1.11,"end":1.27},{"sat":17,"type":"Sensor B","start":2.24,"end":2.37},{"sat":17,"type":"Sensor B","start":2.47,"end":2.60},{"sat":17,"type":"Sensor B","start":3.57,"end":3.69},
      {"sat":17,"type":"Window","start":3.69,"end":3.73},{"sat":17,"type":"Sensor B","start":3.86,"end":3.98},{"sat":17,"type":"Sensor A","start":4.00,"end":4.15},{"sat":17,"type":"Sensor A","start":5.27,"end":5.39},
      {"sat":17,"type":"Sensor C","start":5.60,"end":5.72},{"sat":17,"type":"Window","start":5.72,"end":5.78},{"sat":17,"type":"Sensor B","start":6.75,"end":6.86},{"sat":17,"type":"Sensor A","start":7.19,"end":7.37},
      {"sat":17,"type":"Sensor A","start":8.25,"end":8.37},{"sat":17,"type":"Sensor C","start":9.09,"end":9.20},{"sat":17,"type":"Sensor B","start":9.55,"end":9.67},{"sat":17,"type":"Sensor A","start":10.21,"end":10.34},
      {"sat":17,"type":"Window","start":11.14,"end":11.27},{"sat":17,"type":"Sensor C","start":11.27,"end":11.39},{"sat":17,"type":"Sensor A","start":11.87,"end":12.01},{"sat":17,"type":"Sensor C","start":13.30,"end":13.42},
      {"sat":17,"type":"Sensor A","start":13.70,"end":13.82},{"sat":17,"type":"Sensor C","start":14.65,"end":14.77},{"sat":17,"type":"Sensor C","start":15.45,"end":15.57},{"sat":17,"type":"Sensor C","start":16.15,"end":16.27},
      {"sat":17,"type":"Window","start":17.35,"end":17.55},{"sat":17,"type":"Sensor A","start":17.72,"end":17.84},{"sat":17,"type":"Sensor A","start":18.22,"end":18.34},{"sat":17,"type":"Window","start":19.20,"end":19.35},
      {"sat":17,"type":"Sensor A","start":19.35,"end":19.47},{"sat":17,"type":"Window","start":20.75,"end":20.95},{"sat":17,"type":"Sensor C","start":21.10,"end":21.22},{"sat":17,"type":"Window","start":22.40,"end":22.55},
      {"sat":17,"type":"Sensor A","start":22.55,"end":22.67},{"sat":17,"type":"Sensor B","start":23.00,"end":23.12},{"sat":17,"type":"Window","start":23.75,"end":23.95}
    ]
  },
  "layer": [
    {
      "data": {"name": "rows"},
      "mark": {"type": "rect", "fill": "white", "yOffset": -23, "y2Offset": 23},
      "encoding": {
        "x": {
          "datum": 0, "type": "quantitative",
          "scale": {"domain": [0, 24], "nice": false, "zero": false},
          "axis": {
            "title": "Time (hours)", "values": [0, 5, 10, 15, 20], "grid": false, "domain": false, "ticks": false,
            "labelFlush": false, "labelOverlap": false, "labelPadding": 5,
            "labelFont": "Liberation Sans", "labelFontSize": 29, "labelColor": "black",
            "titleFont": "Liberation Sans", "titleFontSize": 24, "titleFontWeight": "normal",
            "titleColor": "black", "titleY": 70, "titleBaseline": "alphabetic"
          }
        },
        "x2": {"datum": 24},
        "y": {
          "field": "sat", "type": "quantitative",
          "scale": {"domain": [-0.5, 17.5], "reverse": true, "nice": false, "zero": false},
          "axis": {
            "title": "Satellite Number", "values": [0, 1, 2, 3, 4, 5, 6, 7, 8, 9, 10, 11, 12, 13, 14, 15, 16, 17],
            "format": "d",
            "labelExpr": "datum.value === 7 ? '79' : (datum.value === 9 ? '' : datum.label)",
            "grid": false, "domain": false, "ticks": false, "labelOverlap": false,
            "labelAngle": 270, "labelAlign": "center", "labelBaseline": "alphabetic", "labelPadding": 7, "labelOffset": -4,
            "labelFont": "DejaVu Sans", "labelFontSize": 28, "labelColor": "black",
            "titleFont": "DejaVu Sans", "titleFontSize": 33, "titleFontWeight": "normal", "titleColor": "black",
            "titleX": -66, "titleY": 531, "titleAngle": 270, "titleAlign": "center", "titleBaseline": "middle"
          }
        },
        "y2": {"field": "sat"}
      }
    },
    {
      "data": {"name": "obs"},
      "transform": [{"filter": "datum.type === 'Window'"}],
      "mark": {"type": "rect", "yOffset": -23, "y2Offset": 23},
      "encoding": {
        "x": {"field": "start", "type": "quantitative", "title": "Time (hours)"},
        "x2": {"field": "end"},
        "y": {"field": "sat", "type": "quantitative", "title": "Satellite Number"},
        "y2": {"field": "sat"},
        "color": {
          "field": "type", "type": "nominal",
          "scale": {"domain": ["Sensor A", "Sensor B", "Sensor C", "Window"], "range": ["#4ddb3d", "#ef8e3e", "#4d93e0", "#bebebe"]},
          "legend": {
            "title": null, "orient": "none", "legendX": 1210, "legendY": 52, "direction": "vertical",
            "padding": 11, "strokeColor": "black", "fillColor": "white",
            "symbolType": "M-1,-0.4H1V0.4H-1Z", "symbolSize": 1296, "symbolStrokeWidth": 0,
            "labelFont": "Liberation Sans", "labelFontSize": 21, "labelColor": "black",
            "labelOffset": 8, "rowPadding": 19, "labelLimit": 300
          }
        }
      }
    },
    {
      "data": {"name": "obs"},
      "transform": [{"filter": "datum.type !== 'Window'"}],
      "mark": {"type": "rect", "yOffset": -23, "y2Offset": 23},
      "encoding": {
        "x": {"field": "start", "type": "quantitative", "title": "Time (hours)"},
        "x2": {"field": "end"},
        "y": {"field": "sat", "type": "quantitative", "title": "Satellite Number"},
        "y2": {"field": "sat"},
        "color": {"field": "type", "type": "nominal"}
      }
    },
    {
      "data": {"name": "rows"},
      "transform": [{"flatten": ["g"]}],
      "mark": {"type": "rule", "stroke": "black", "strokeWidth": 1.4, "strokeDash": [10, 26], "yOffset": -23, "y2Offset": 23},
      "encoding": {
        "x": {"field": "g", "type": "quantitative", "title": "Time (hours)"},
        "y": {"field": "sat", "type": "quantitative", "title": "Satellite Number"},
        "y2": {"field": "sat"}
      }
    },
    {
      "data": {"name": "rows"},
      "mark": {"type": "rect", "filled": false, "stroke": "black", "strokeWidth": 3, "yOffset": -23, "y2Offset": 23},
      "encoding": {
        "x": {"datum": 0, "type": "quantitative"},
        "x2": {"datum": 24},
        "y": {"field": "sat", "type": "quantitative", "title": "Satellite Number"},
        "y2": {"field": "sat"}
      }
    },
    {
      "data": {"values": [{}]},
      "mark": {"type": "rect", "fill": "white", "stroke": "#b4504c", "strokeWidth": 4.5, "clip": false},
      "encoding": {
        "x": {"datum": 16.53, "type": "quantitative"},
        "x2": {"datum": 29},
        "y": {"datum": 7.0, "type": "quantitative"},
        "y2": {"datum": 12.34}
      }
    },
    {
      "data": {"values": [{}]},
      "mark": {
        "type": "text",
        "text": ["Example: Balance three", "different types of sensors", "across a large constellation"],
        "font": "Open Sans", "fontWeight": "bold", "fontSize": 39, "lineHeight": 57,
        "align": "center", "baseline": "middle", "color": "black"
      },
      "encoding": {
        "x": {"datum": 22.64, "type": "quantitative"},
        "y": {"datum": 8.73, "type": "quantitative"}
      }
    },
    {
      "data": {"values": [{}]},
      "mark": {
        "type": "text", "text": "A. Kennedy",
        "font": "Liberation Sans", "fontStyle": "italic", "fontSize": 31,
        "align": "left", "baseline": "alphabetic", "color": "#454545"
      },
      "encoding": {
        "x": {"datum": 17.7, "type": "quantitative"},
        "y": {"datum": 19.1, "type": "quantitative"}
      }
    }
  ]
}
